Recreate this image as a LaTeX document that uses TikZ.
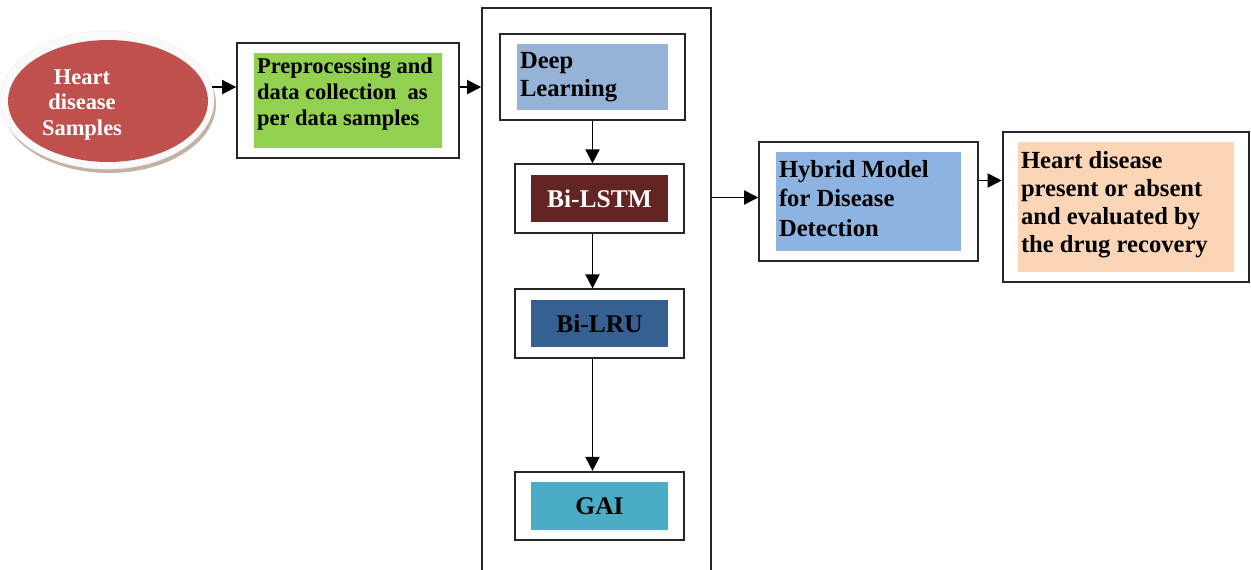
\documentclass[tikz,border=0pt]{standalone}
\usepackage{fontspec}
\setmainfont{Liberation Serif}
\usetikzlibrary{positioning,fit,shapes.geometric,arrows.meta}
\definecolor{heartred}{HTML}{C0504D}
\definecolor{prepgreen}{HTML}{92D050}
\definecolor{deepblue}{HTML}{95B3D7}
\definecolor{lstmred}{HTML}{632523}
\definecolor{lrublue}{HTML}{366092}
\definecolor{gaicyan}{HTML}{4BACC6}
\definecolor{hybridblue}{HTML}{8DB3E2}
\definecolor{resultpeach}{HTML}{FBD5B5}
\newcommand{\topfill}[3]{\parbox[c][#2][t]{#1}{\raggedright #3}}

\begin{document}
\begin{tikzpicture}[x=0.02cm,y=-0.02cm]
% STYLES
\tikzset{%
    outerbox/.style={%
        draw=black!85, line width=1.1pt, inner xsep=0.33cm, inner ysep=0.2cm
    },
    fillbox/.style={fill=#1, inner xsep=0.06cm, inner ysep=0.16cm},
    midfill/.style={%
        fill=#1, minimum width=2.74cm, minimum height=0.95cm,
        font=\fontsize{14.5}{17}\selectfont\bfseries
    },
    arr/.style={-{Triangle[length=8pt,width=8pt]}, line width=1pt}
}
\useasboundingbox (0,0) rectangle (1251,570);
% Samples ellipse
\fill[brown!40!gray!60] (109,104) ellipse [x radius=107, y radius=69];
\node [ellipse, fill=gray!4, draw=gray!12, minimum width=4.28cm,
    minimum height=2.76cm] (samples) at (107,100) {};
\node [ellipse, fill=heartred, minimum width=4cm, minimum height=2.44cm]
    (samplesfill) at (108,101) {};
\node [text=white, align=center, font=\fontsize{12.8}{14.7}\selectfont\bfseries]
    (samplestext) at (82,105) {Heart\\disease\\Samples};
% Preprocessing
\node [fillbox=prepgreen, inner ysep=0.1cm, font=\fontsize{12.8}{14.7}\selectfont\bfseries]
    (prepfill) at (348,100.5)
    {\topfill{3.64cm}{1.7cm}{Preprocessing and\\data collection\ \ as\\per data samples}};
\node [outerbox, fit=(prepfill)] (prep) {};
% Deep learning frame
\node [draw=black!85, line width=1pt, minimum width=4.58cm, minimum height=11.36cm,
    anchor=north] (dlframe) at (596.5,7) {};
\node [fillbox=deepblue, font=\fontsize{14}{16}\selectfont\bfseries]
    (deepfill) at (592.5,77) {\topfill{2.9cm}{1.0cm}{Deep\\Learning}};
\node [outerbox, fit=(deepfill)] (deep) {};
\node [midfill=lstmred, text=white] (lstmfill) at (599.5,198.5) {Bi-LSTM};
\node [outerbox, fit=(lstmfill), inner xsep=0.32cm] (lstm) {};
\node [midfill=lrublue] (lrufill) at (599.5,323.5) {Bi-LRU};
\node [outerbox, fit=(lrufill), inner xsep=0.32cm] (lru) {};
\node [midfill=gaicyan] (gaifill) at (599.5,506) {GAI};
\node [outerbox, fit=(gaifill), inner xsep=0.32cm] (gai) {};
% Hybrid and result
\node [fillbox=hybridblue, font=\fontsize{14}{17}\selectfont\bfseries]
    (hybridfill) at (868.5,201.5)
    {\topfill{3.58cm}{1.66cm}{Hybrid Model\\for Disease\\Detection}};
\node [outerbox, fit=(hybridfill)] (hybrid) {};
\node [fillbox=resultpeach, inner ysep=0.18cm, font=\fontsize{14}{16}\selectfont\bfseries]
    (resultfill) at (1126,207)
    {\topfill{4.2cm}{2.24cm}{Heart disease\\present or absent\\and evaluated by\\the drug recovery}};
\node [outerbox, fit=(resultfill), inner xsep=0.3cm] (result) {};
% Draw the links
\draw[arr] (samples.7) -- (samples.7 -| prep.west);
\draw[arr] (prep.east |- samples.7) -- (dlframe.west |- samples.7);
\draw[arr] (deep.south) -- (deep.south |- lstm.north);
\draw[arr] (deep.south |- lstm.south) -- (deep.south |- lru.north);
\draw[arr] (deep.south |- lru.south) -- (deep.south |- gai.north);
\draw[arr] ([yshift=0.08cm]dlframe.east |- hybrid.west) -- ([yshift=0.08cm]hybrid.west);
\draw[arr] ([yshift=0.42cm]hybrid.east) -- ([yshift=0.42cm]hybrid.east -| result.west);
\end{tikzpicture}
\end{document}
